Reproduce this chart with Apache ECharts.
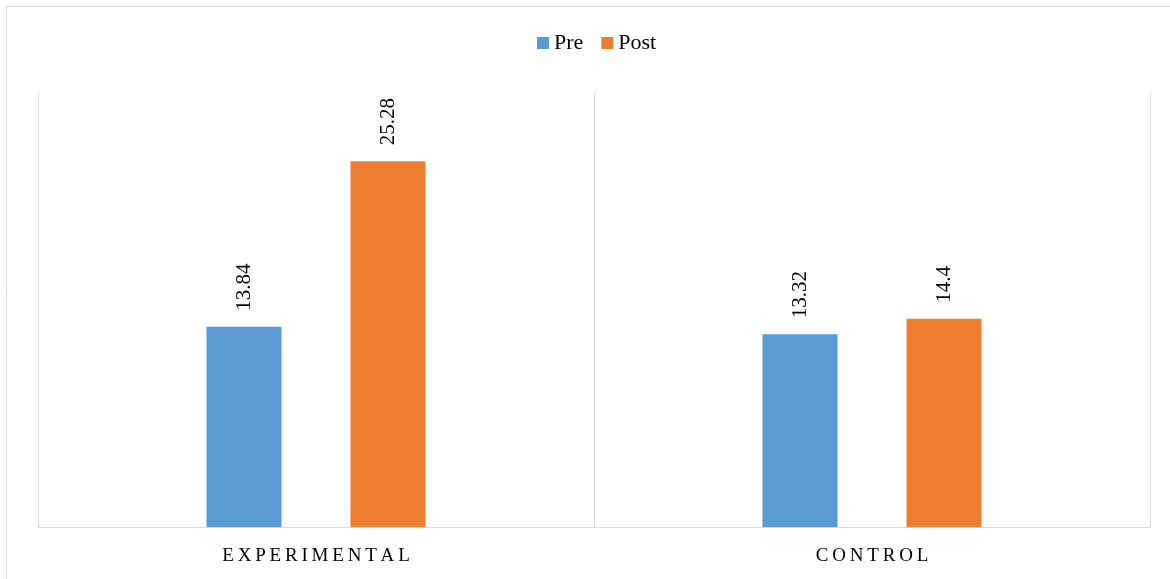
<!DOCTYPE html>
<html>
<head>
<meta charset="utf-8">
<script src="https://cdn.jsdelivr.net/npm/echarts@6/dist/echarts.min.js"></script>
<style>
html,body{margin:0;padding:0;background:#fff;}
#c{width:1170px;height:579px;}
</style>
</head>
<body>
<div id="c"></div>
<script>
var categories = ["EXPERIMENTAL", "CONTROL"];
var seriesNames = ["Pre", "Post"];
var preValues = [13.84, 13.32];
var postValues = [25.28, 14.4];

var chart = echarts.init(document.getElementById('c'));
var FONT = '"Liberation Serif", "Times New Roman", serif';
var labelStyle = {
  show: true,
  position: 'top',
  distance: 16,
  rotate: 90,
  align: 'left',
  verticalAlign: 'middle',
  fontFamily: FONT,
  fontSize: 21,
  color: '#000'
};
chart.setOption({
  animation: false,
  backgroundColor: '#fff',
  graphic: [{
    type: 'rect',
    shape: {x: 6.5, y: 6.5, width: 1200, height: 600},
    style: {fill: 'none', stroke: '#d9d9d9', lineWidth: 1},
    silent: true
  }],
  legend: {
    data: seriesNames,
    left: 537,
    top: 32,
    padding: 0,
    itemWidth: 12,
    itemHeight: 12,
    itemGap: 18,
    icon: 'rect',
    textStyle: {fontFamily: FONT, fontSize: 22, color: '#000'}
  },
  grid: {left: 38, right: 20, top: 93, bottom: 52, containLabel: false},
  xAxis: {
    type: 'category',
    data: categories,
    axisLine: {show: true, lineStyle: {color: '#d9d9d9', width: 1}},
    axisTick: {show: false},
    splitLine: {show: true, lineStyle: {color: '#d9d9d9', width: 1}},
    axisLabel: {
      margin: 20,
      fontFamily: FONT,
      fontSize: 19,
      color: '#000',
      formatter: function (v) { return v.split('').join('\u2009'); }
    }
  },
  yAxis: {
    type: 'value',
    min: 0,
    max: 30,
    interval: 5,
    show: true,
    axisLine: {show: false},
    axisTick: {show: false},
    axisLabel: {show: false},
    splitLine: {show: false}
  },
  series: [
    {name: seriesNames[0], type: 'bar', data: preValues, barWidth: 75, barGap: '92%',
     itemStyle: {color: '#5B9BD5'}, label: labelStyle},
    {name: seriesNames[1], type: 'bar', data: postValues, barWidth: 75, barGap: '92%',
     itemStyle: {color: '#ED7D31'}, label: labelStyle}
  ]
});
</script>
</body>
</html>
